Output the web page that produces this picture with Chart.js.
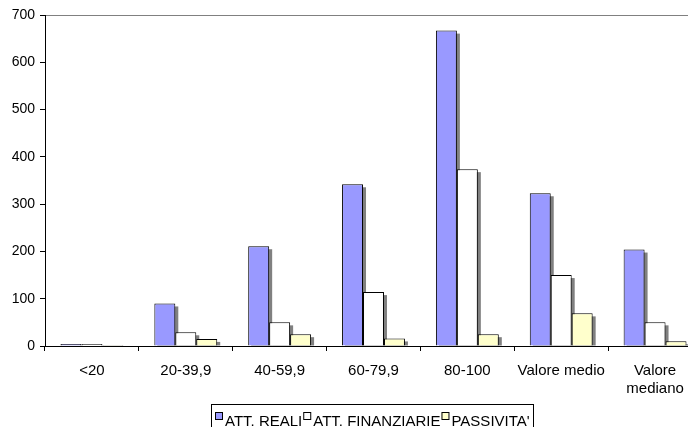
<!DOCTYPE html>
<html>
<head>
<meta charset="utf-8">
<script src="https://cdn.jsdelivr.net/npm/chart.js@4/dist/chart.umd.min.js"></script>
<style>
  html, body { margin: 0; padding: 0; overflow: hidden; background: #fff; }
  #wrap { width: 702px; height: 432px; }
</style>
</head>
<body>
<div id="wrap"><canvas id="chart"></canvas></div>
<script>
// categories and series
var categories = ['<20', '20-39,9', '40-59,9', '60-79,9', '80-100', 'Valore medio', ['Valore', 'mediano']];
var attReali = [4, 90, 211, 342, 667, 323, 204];
var attFinanziarie = [4, 29, 50, 114, 374, 150, 50];
var passivita = [2, 15, 25, 16, 25, 69, 10];
var yTicks = [0, 100, 200, 300, 400, 500, 600, 700];

Chart.defaults.font.family = '"Liberation Sans", Arial, sans-serif';
Chart.defaults.font.size = 15;
Chart.defaults.color = '#000';

// grey drop shadow behind each bar (drawn from the bar elements)
var barShadow = {
  id: 'barShadow',
  beforeDatasetsDraw: function(chart) {
    var ctx = chart.ctx;
    var area = chart.chartArea;
    ctx.save();
    ctx.beginPath();
    ctx.rect(area.left, area.top, area.right - area.left, area.bottom - area.top);
    ctx.clip();
    ctx.fillStyle = '#808080';
    chart.getSortedVisibleDatasetMetas().forEach(function(meta) {
      meta.data.forEach(function(bar) {
        var p = bar.getProps(['x', 'y', 'base', 'width'], true);
        var h = p.base - p.y - 3;
        if (h > 0) {
          ctx.fillRect(p.x - p.width / 2 + 3, p.y + 3, p.width, h);
        }
      });
    });
    ctx.restore();
  }
};

// boxed legend like the spreadsheet one
var boxLegend = {
  id: 'boxLegend',
  afterDraw: function(chart) {
    var ctx = chart.ctx;
    ctx.save();
    ctx.font = '15px "Liberation Sans", Arial, sans-serif';
    ctx.textBaseline = 'alphabetic';
    ctx.lineWidth = 1;
    ctx.strokeStyle = '#000';
    var left = 211;
    var x = left + 4;
    chart.data.datasets.forEach(function(ds) {
      ctx.fillStyle = ds.backgroundColor;
      ctx.fillRect(x, 412, 7, 7);
      ctx.strokeRect(x + 0.5, 412.5, 7, 7);
      ctx.fillStyle = '#000';
      ctx.fillText(ds.label, x + 10, 426);
      x += 10 + ctx.measureText(ds.label).width + 1;
    });
    ctx.strokeRect(left + 0.5, 404.5, Math.round(x + 2 - left), 30);
    ctx.restore();
  }
};

var myChart = new Chart(document.getElementById('chart'), {
  type: 'bar',
  data: {
    labels: categories,
    datasets: [{
      label: 'ATT. REALI',
      data: attReali,
      backgroundColor: '#9999ff',
      borderColor: '#000',
      borderWidth: 1
    }, {
      label: 'ATT. FINANZIARIE',
      data: attFinanziarie,
      backgroundColor: '#ffffff',
      borderColor: '#000',
      borderWidth: 1
    }, {
      label: "PASSIVITA'",
      data: passivita,
      backgroundColor: '#ffffcc',
      borderColor: '#000',
      borderWidth: 1
    }]
  },
  options: {
    responsive: true,
    maintainAspectRatio: false,
    animation: false,
    layout: { padding: { top: 15, right: 0, bottom: 0, left: 0 } },
    datasets: {
      bar: { categoryPercentage: 0.67, barPercentage: 1 }
    },
    plugins: {
      legend: { display: false },
      tooltip: { enabled: false }
    },
    scales: {
      x: {
        grid: {
          offset: true,
          drawOnChartArea: false,
          tickLength: 5,
          tickColor: '#000'
        },
        border: { color: '#000' },
        ticks: { padding: 11, maxRotation: 0, autoSkip: false },
        afterFit: function(scale) { scale.height = 86; }
      },
      y: {
        min: 0,
        max: 700,
        afterBuildTicks: function(scale) {
          scale.ticks = yTicks.map(function(v) { return { value: v }; });
        },
        grid: {
          color: function(c) { return c.tick && c.tick.value === 700 ? '#808080' : 'rgba(0,0,0,0)'; },
          tickColor: '#000',
          tickLength: 5
        },
        border: { color: '#000' },
        ticks: { padding: 5, font: { size: 14 } },
        afterFit: function(scale) { scale.width = 45; }
      }
    }
  },
  plugins: [barShadow, boxLegend]
});
</script>
</body>
</html>
